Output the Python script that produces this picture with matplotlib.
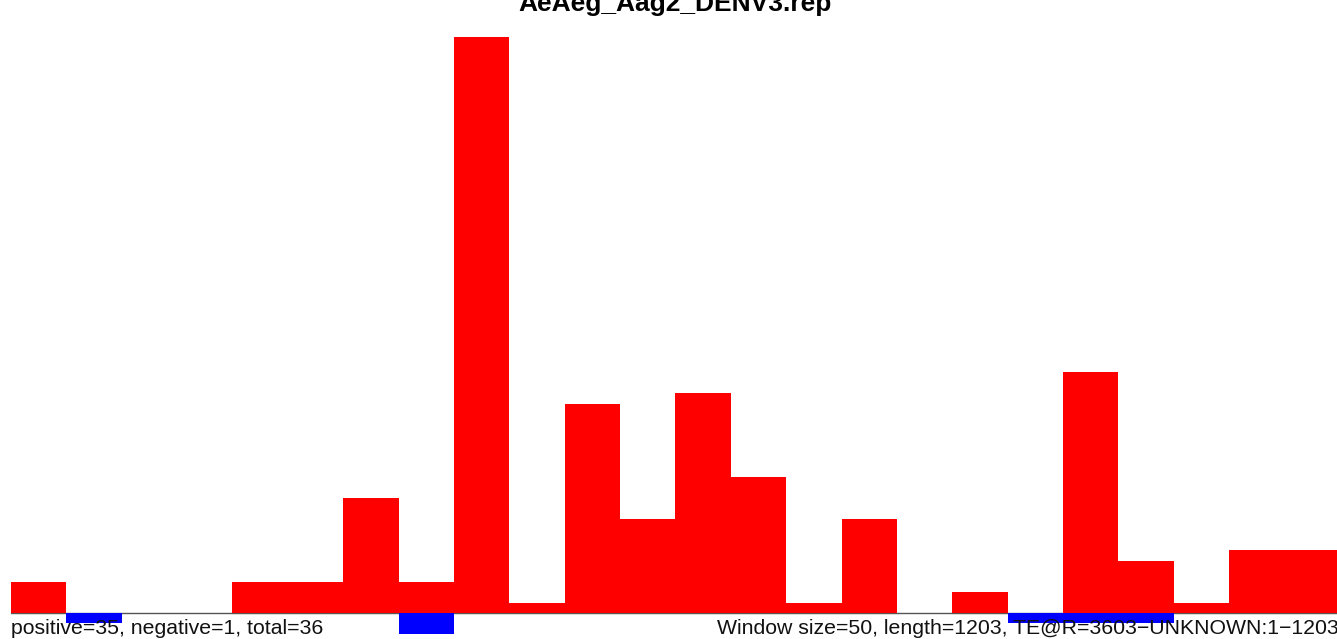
import numpy as np
import matplotlib
matplotlib.use("Agg")
import matplotlib.pyplot as plt

# --- data ---
TITLE = "AeAeg_Aag2_DENV3.rep"
WINDOW = 50
LENGTH = 1203
window_starts = list(range(0, 1200, WINDOW))  # 24 windows visible
positive_counts = [3, 0, 0, 0, 3, 3, 11, 3, 55, 1, 20, 9,
                   21, 13, 1, 9, 0, 2, 0, 23, 5, 1, 6, 6]
negative_counts = [0, 1, 0, 0, 0, 0, 0, 2, 0, 0, 0, 0,
                   0, 0, 0, 0, 0, 0, 1, 1, 1, 0, 0, 0]
left_label = "positive=35, negative=1, total=36"
right_label = "Window size=50, length=1203, TE@R=3603\u2212UNKNOWN:1\u22121203"

W, H = 1337, 639
fig = plt.figure(figsize=(W / 100, H / 100), dpi=100)
fig.patch.set_facecolor("white")

# axes: x=0 at px 11, 50 bp = 55.37 px; y=0 at px 613, 1 unit = 10.47 px
left_px = 11
px_per_bp = 55.37 / WINDOW
px_per_unit = 576 / 55
top_px = 37
ax = fig.add_axes([left_px / W, 0, (W - left_px) / W, (H - top_px) / H])
ax.set_xlim(0, (W - left_px) / px_per_bp)
ax.set_ylim(-(H - 613) / px_per_unit, 55)
ax.axis("off")

ax.axhline(0, color="#555555", lw=1, zorder=1)
ax.bar(window_starts, positive_counts, width=WINDOW, align="edge",
       color="#ff0000", linewidth=0, zorder=2)
ax.bar(window_starts, [-v for v in negative_counts], width=WINDOW, align="edge",
       color="#0000ff", linewidth=0, zorder=2)

fig.text(675.5 / W, 1 - 11 / H, TITLE, ha="center", va="baseline",
         fontsize=19, fontweight="bold", family="Liberation Sans")
fig.text(11 / W, (H - 634) / H, left_label, ha="left", va="baseline",
         fontsize=15.3, family="Liberation Sans", color="#111111")
fig.text(717 / W, (H - 634) / H, right_label, ha="left", va="baseline",
         fontsize=15.3, family="Liberation Sans", color="#111111")

fig.savefig("out.png", dpi=100)
